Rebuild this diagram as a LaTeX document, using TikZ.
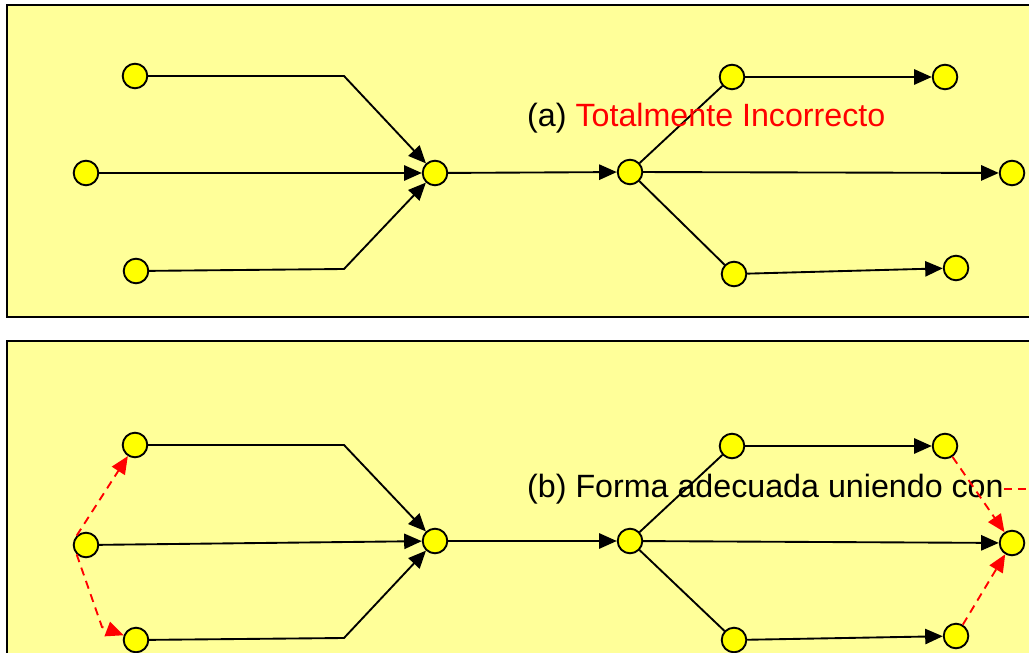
\documentclass[tikz,border=0pt]{standalone}
\usepackage{fontspec}
\setmainfont{Liberation Sans}
\usetikzlibrary{arrows.meta}

\definecolor{fondo}{HTML}{FFFF99}
\definecolor{amarillo}{HTML}{FFFF00}

\tikzset{
  punto/.style={circle,draw=black,fill=amarillo,line width=1.6pt,minimum size=21pt,inner sep=0pt},
  flecha/.style={line width=1.6pt,-{Triangle[length=15pt,width=13pt]}},
  linea/.style={line width=1.6pt},
  rojo/.style={red,line width=1.6pt,dash pattern=on 7pt off 5pt},
  marco/.style={draw=black,fill=fondo,line width=1.6pt},
  rotulo/.style={anchor=base west,inner sep=0pt,font=\fontsize{27.5}{32}\selectfont}
}

\begin{document}
\begin{tikzpicture}[x=0.03cm,y=-0.03cm]
        \clip (0,0) rectangle (1029,653);
        % panel (a)
        \draw[marco] (7,5) rectangle (1045,317);
        \node[punto] (a1) at (135,76) {};
        \node[punto] (a2) at (86,173) {};
        \node[punto] (a3) at (136,271) {};
        \node[punto] (am) at (435,173) {};
        \node[punto] (an) at (630,172) {};
        \node[punto] (at1) at (732,77) {};
        \node[punto] (at2) at (945,77) {};
        \node[punto] (ar) at (1012,173) {};
        \node[punto] (ab1) at (734,274) {};
        \node[punto] (ab2) at (956,268) {};
        \draw[flecha] (a1) -- (344,76) -- (am);
        \draw[flecha] (a2) -- (am);
        \draw[flecha] (a3) -- (344,269) -- (am);
        \draw[flecha] (am) -- (an);
        \draw[linea] (an) -- (at1);
        \draw[linea] (an) -- (ab1);
        \draw[flecha] (an) -- (ar);
        \draw[flecha] (at1) -- (at2);
        \draw[flecha] (ab1) -- (ab2);
        \node[rotulo] (txta) at (527,127) {(a) \textcolor{red}{Totalmente Incorrecto}};
        % panel (b)
        \draw[marco] (7,341) rectangle (1045,680);
        \node[punto] (b1) at (135,445) {};
        \node[punto] (b2) at (86,545) {};
        \node[punto] (b3) at (136,640) {};
        \node[punto] (bm) at (435,541) {};
        \node[punto] (bn) at (630,541) {};
        \node[punto] (bt1) at (732,446) {};
        \node[punto] (bt2) at (945,446) {};
        \node[punto] (br) at (1012,543) {};
        \node[punto] (bb1) at (734,640) {};
        \node[punto] (bb2) at (956,636) {};
        \draw[flecha] (b1) -- (344,445) -- (bm);
        \draw[flecha] (b2) -- (bm);
        \draw[flecha] (b3) -- (344,638) -- (bm);
        \draw[flecha] (bm) -- (bn);
        \draw[linea] (bn) -- (bt1);
        \draw[linea] (bn) -- (bb1);
        \draw[flecha] (bn) -- (br);
        \draw[flecha] (bt1) -- (bt2);
        \draw[flecha] (bb1) -- (bb2);
        \node[rotulo] (txtb) at (527,497) {(b) Forma adecuada uniendo con};
        \coordinate (fin) at (1045,489);
        \draw[rojo] (txtb.east |- fin) -- (fin);
        % uniones ficticias
        \draw[rojo,-{Triangle[length=15pt,width=13pt]}] (b2.north west) -- (b1);
        \draw[rojo,-{Triangle[length=15pt,width=13pt]}] (b2.south west) -- (102,627) -- (b3);
        \draw[rojo,-{Triangle[length=15pt,width=13pt]}] (bt2) -- (br);
        \draw[rojo,-{Triangle[length=15pt,width=13pt]}] (bb2) -- (br);
\end{tikzpicture}
\end{document}
